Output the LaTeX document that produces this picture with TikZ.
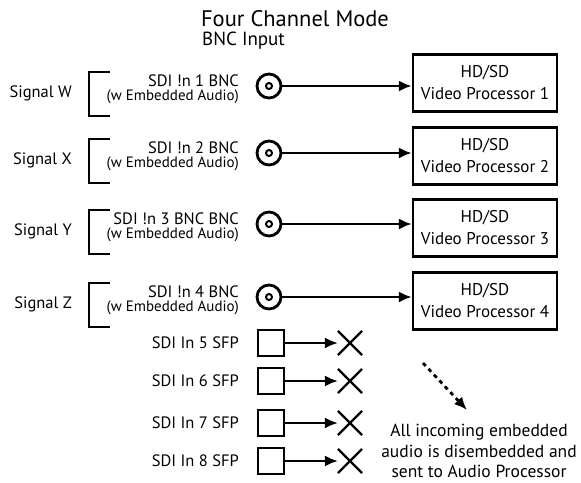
\documentclass[tikz,border=0pt]{standalone}
\usepackage{fontspec}
\setmainfont{PT Sans}
\usetikzlibrary{arrows.meta}
\usetikzlibrary{shapes.misc}
\begin{document}
\begin{tikzpicture}[x=1pt,y=-1pt,>={Latex[length=13pt,width=11pt]},
    proc/.style={draw,line width=2.4pt,minimum width=144pt,minimum height=57pt,
      inner sep=0pt,align=center,font=\fontsize{17}{22}\selectfont},
    bncjack/.style={draw,circle,line width=2.8pt,minimum size=24pt,inner sep=0pt},
    sfpjack/.style={draw,line width=2.6pt,minimum size=26pt,inner sep=0pt},
    deadend/.style={cross out,draw,line width=2.2pt,minimum size=22pt,inner sep=0pt},
    lbl/.style={anchor=east,inner sep=0pt,font=\fontsize{16.5}{19}\selectfont},
    sublbl/.style={anchor=east,inner sep=0pt,font=\fontsize{15}{17}\selectfont},
    feed/.style={->,line width=2.3pt}]
    \useasboundingbox (0,0) rectangle (581,482);
    \node (title) at (295,19) {\fontsize{22.5}{26}\selectfont Four Channel Mode};
    \node[anchor=west,inner sep=0pt] (subtitle) at (202,41) {\fontsize{19}{22}\selectfont BNC Input};
    \foreach \i/\sig/\lab/\y/\by in {1/W/{SDI !n 1 BNC}/86/83,
                                    2/X/{SDI !n 2 BNC}/153/156,
                                    3/Y/{SDI !n 3 BNC BNC}/224/228,
                                    4/Z/{SDI !n 4 BNC}/297/301} {
      \draw[line width=1.8pt] (110,\y-14) -- (89,\y-14) -- (89,\y+30) -- (110,\y+30);
      \node[lbl] (sig\i) at (72,\y+7) {Signal \sig};
      \node[lbl] (sdi\i) at (239,\y-5) {\lab};
      \node[sublbl] (emb\i) at (239,\y+11) {(w Embedded Audio)};
      \node[bncjack] (bnc\i) at (269,\y) {};
      \draw[line width=2pt] (bnc\i.center) circle (3);
      \node[proc] (vp\i) at (485,\by) {HD/SD\\Video Processor \i};
      \draw[feed] (bnc\i) -- (bnc\i -| vp\i.west);
    }
    \foreach \i/\y in {5/343,6/381,7/423,8/461} {
      \node[lbl] (sfptext\i) at (239,\y) {SDI In \i\ SFP};
      \node[sfpjack] (sfp\i) at (271,\y) {};
      \node[deadend] (cross\i) at (350,\y) {};
      \draw[feed] (sfp\i) -- (cross\i);
    }
    \coordinate (dstart) at (423,363);
    \coordinate (dend) at (467,410);
    \draw[->,line width=2.8pt,dash pattern=on 4pt off 4pt] (dstart) -- (dend);
    \node[align=center,font=\fontsize{17.5}{20.5}\selectfont] (note) at (479,451)
      {All incoming embedded\\audio is disembedded and\\sent to Audio Processor};
\end{tikzpicture}
\end{document}
